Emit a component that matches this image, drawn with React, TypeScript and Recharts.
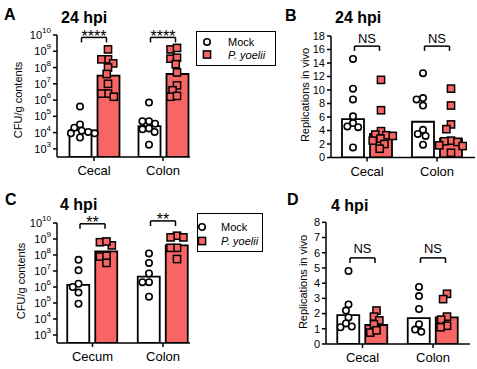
import React from 'react';
import { ComposedChart, Bar, Scatter, XAxis, YAxis, ReferenceLine, ReferenceDot, Legend } from 'recharts';

const FONT = '"Liberation Sans", Arial, Helvetica, sans-serif';
const RED = '#F76565';

const SERIES = ['Mock', 'P. yoelii'];
const CATS_24 = ['Cecal', 'Colon'];
const CATS_4_CFU = ['Cecum', 'Colon'];
const CATS_4_REP = ['Cecal', 'Colon'];
const LOG_TICKS = [1e3, 1e4, 1e5, 1e6, 1e7, 1e8, 1e9, 1e10];
const REP24_TICKS = [0, 2, 4, 6, 8, 10, 12, 14, 16, 18];
const REP4_TICKS = [0, 1, 2, 3, 4, 5, 6, 7, 8];

// Panel A: CFU/g contents, 24 hpi
const A_BAR_MOCK = [1.4e4, 2.5e4];
const A_BAR_PY = [3.2e7, 4.0e7];
const A_MOCK_CECAL = [4.0e5, 3.2e4, 2.0e4, 1.1e4, 1.3e4, 9.0e3, 9.0e3, 5.0e3];
const A_MOCK_COLON = [7.0e5, 5.0e4, 3.5e4, 5.0e4, 1.8e4, 1.1e4, 1.6e4, 1.8e3];
const A_PY_CECAL = [1.3e9, 3.2e8, 3.2e8, 1.8e8, 1.0e8, 4.0e7, 1.0e7, 2.5e6, 1.6e6, 2.5e6];
const A_PY_COLON = [1.3e9, 1.6e9, 3.5e8, 4.0e8, 1.6e8, 5.0e7, 8.0e6, 4.0e6, 1.6e6, 1.8e6];
const A_SIG = ['****', '****'];
const A_SIG_Y = [7.1e9, 7.1e9];
const A_SIG_END = [3.5e9, 3.5e9];

// Panel B: replications in vivo, 24 hpi
const B_BAR_MOCK = [5.7, 5.3];
const B_BAR_PY = [3.5, 2.8];
const B_MOCK_CECAL = [14.6, 10.2, 8.6, 6.1, 5.1, 4.5, 4.6, 1.5];
const B_MOCK_COLON = [12.5, 8.6, 8.8, 7.7, 3.5, 4.1, 3.2, 1.9];
const B_PY_CECAL = [11.5, 7.0, 3.9, 3.3, 3.4, 3.2, 2.8, 2.5, 2.0, 1.3];
const B_PY_COLON = [10.2, 7.7, 4.9, 4.2, 2.5, 2.3, 2.4, 1.8, 1.7, 0.7];
const B_SIG = ['NS', 'NS'];
const B_SIG_Y = [16.5, 16.5];
const B_SIG_END = [15.8, 15.8];

// Panel C: CFU/g contents, 4 hpi
const C_BAR_MOCK = [1.35e6, 4.4e6];
const C_BAR_PY = [1.7e8, 4.0e8];
const C_MOCK_CECUM = [5.0e7, 1.1e7, 1.6e6, 1.0e6, 4.5e5, 9.0e4];
const C_MOCK_COLON = [1.26e8, 3.2e7, 7.0e6, 2.0e6, 2.0e6, 2.5e5];
const C_PY_CECUM = [6.3e8, 4.0e8, 7.0e8, 8.0e7, 9.0e7, 3.2e7];
const C_PY_COLON = [1.6e9, 1.26e9, 1.26e9, 2.8e8, 2.8e8, 5.6e7];
const C_SIG = ['**', '**'];
const C_SIG_Y = [8.9e9, 1.35e10];
const C_SIG_END = [4.3e9, 6.5e9];

// Panel D: replications in vivo, 4 hpi
const D_BAR_MOCK = [1.9, 1.7];
const D_BAR_PY = [1.25, 1.75];
const D_MOCK_CECAL = [4.8, 2.6, 2.2, 1.75, 1.1, 1.35, 1.15];
const D_MOCK_COLON = [3.75, 3.15, 2.3, 1.3, 0.8, 0.95];
const D_PY_CECAL = [2.2, 1.8, 1.55, 1.3, 0.75, 0.9];
const D_PY_COLON = [3.3, 2.95, 1.8, 1.6, 1.2, 1.1];
const D_SIG = ['NS', 'NS'];
const D_SIG_Y = [5.66, 5.66];
const D_SIG_END = [5.33, 5.33];

const BAR = 22;
const GAP = 6;
const HALF = (BAR + GAP) / 2;
const DIAM = 6.6;

function swarm(pys: number[], diam: number): number[] {
  const order = pys.map((_, i) => i).sort((a, b) => pys[a] - pys[b]);
  const placed: { x: number; y: number }[] = [];
  const xs = new Array(pys.length).fill(0);
  for (const i of order) {
    const y = pys[i];
    const iv: [number, number][] = [];
    for (const p of placed) {
      const dy = Math.abs(p.y - y);
      if (dy < diam) {
        const dx = Math.sqrt(diam * diam - dy * dy);
        iv.push([p.x - dx, p.x + dx]);
      }
    }
    const cands = [0, ...iv.flatMap(([a, b]) => [a, b])].sort((a, b) => Math.abs(a) - Math.abs(b) || a - b);
    let chosen = 0;
    for (const c of cands) {
      if (iv.every(([a, b]) => c <= a + 1e-6 || c >= b - 1e-6)) { chosen = c; break; }
    }
    xs[i] = chosen;
    placed.push({ x: chosen, y });
  }
  return xs;
}

const LogTick = (props: any) => {
  const { x, y, payload } = props;
  const exp = Math.round(Math.log10(payload.value));
  return (
    <text x={x} y={y} textAnchor="end" dominantBaseline="central" fontSize={11} fill="#000" fontFamily={FONT}>
      10<tspan dy={-5} fontSize={8}>{exp}</tspan>
    </text>
  );
};

const CircleShape = (p: any) => (
  <circle cx={p.cx} cy={p.cy} r={3.2} fill="#fff" stroke="#000" strokeWidth={1.6} />
);
const SquareShape = (p: any) => (
  <rect x={p.cx - 3.6} y={p.cy - 3.6} width={7.2} height={7.2} fill={RED} stroke="#000" strokeWidth={1.5} />
);

type LegendCfg = { x: number; y: number; w: number; h: number; mx: number; tx: number; y1: number; y2: number };

function LegendBox({ lg }: { lg: LegendCfg }) {
  return (
    <div style={{ position: 'relative', width: lg.w, height: lg.h, boxSizing: 'border-box', border: '1.3px solid #000', background: '#fff', fontFamily: FONT, fontSize: 11, color: '#000' }}>
      <svg width={lg.w} height={lg.h} style={{ position: 'absolute', left: -1.3, top: -1.3 }}>
        <circle cx={lg.mx} cy={lg.y1} r={3.2} fill="#fff" stroke="#000" strokeWidth={1.6} />
        <rect x={lg.mx - 3.6} y={lg.y2 - 3.6} width={7.2} height={7.2} fill={RED} stroke="#000" strokeWidth={1.5} />
        <text x={lg.tx} y={lg.y1} dominantBaseline="central" fontSize={11} fontFamily={FONT}>{SERIES[0]}</text>
        <text x={lg.tx} y={lg.y2} dominantBaseline="central" fontSize={11} fontFamily={FONT} fontStyle="italic">{SERIES[1]}</text>
      </svg>
    </div>
  );
}

type PanelCfg = {
  box: { left: number; top: number; w: number; h: number };
  plot: { l: number; t: number; r: number; b: number };
  padL: number; padR: number;
  log: boolean;
  domain: [number, number];
  ticks: number[];
  cats: string[];
  barMock: number[]; barPy: number[];
  mock: number[][]; py: number[][];
  sig: string[]; sigY: number[]; sigEnd: number[];
  sigFont: number; sigDy: number; sigHalf: number;
  legend?: LegendCfg;
};

function Panel({ cfg }: { cfg: PanelCfg }) {
  const { box, plot } = cfg;
  const band = (plot.r - cfg.padR - (plot.l + cfg.padL)) / cfg.cats.length;
  const h = plot.b - plot.t;
  const toPx = (v: number) => cfg.log
    ? plot.t + (Math.log10(cfg.domain[1]) - Math.log10(v)) / (Math.log10(cfg.domain[1]) - Math.log10(cfg.domain[0])) * h
    : plot.t + (cfg.domain[1] - v) / (cfg.domain[1] - cfg.domain[0]) * h;
  const barData = cfg.cats.map((c, i) => ({ cat: c, mock: cfg.barMock[i], py: cfg.barPy[i] }));
  const makePts = (groups: number[][], side: number) => groups.flatMap((vals, ci) => {
    const js = swarm(vals.map(toPx), DIAM);
    return vals.map((v, k) => ({ x: ci + 0.5 + (side * HALF + js[k]) / band, y: v }));
  });
  const mockPts = makePts(cfg.mock, -1);
  const pyPts = makePts(cfg.py, 1);
  const hw = cfg.sigHalf / band;
  const n = cfg.cats.length;
  const axisStyle = { stroke: '#000', strokeWidth: 1.5 };
  return (
    <div style={{ position: 'absolute', left: box.left, top: box.top }}>
      <ComposedChart
        width={box.w}
        height={box.h}
        data={barData}
        barGap={GAP}
        margin={{ top: plot.t - box.top, right: box.left + box.w - plot.r, bottom: 0, left: 0 }}
      >
        <XAxis
          xAxisId="c"
          dataKey="cat"
          height={box.top + box.h - plot.b}
          padding={{ left: cfg.padL, right: cfg.padR }}
          axisLine={axisStyle}
          tickLine={axisStyle}
          tickSize={4}
          tickMargin={5}
          tick={{ fontSize: 13, fill: '#000', fontFamily: FONT }}
          interval={0}
        />
        <XAxis xAxisId="n" dataKey="x" type="number" domain={[0, n]} allowDataOverflow hide height={0}
          padding={{ left: cfg.padL, right: cfg.padR }} />
        <YAxis
          width={plot.l - box.left}
          scale={cfg.log ? 'log' : 'linear'}
          domain={cfg.domain}
          allowDataOverflow
          ticks={cfg.ticks}
          interval={0}
          axisLine={axisStyle}
          tickLine={axisStyle}
          tickSize={4}
          tickMargin={2}
          tick={cfg.log ? <LogTick /> : { fontSize: 11, fill: '#000', fontFamily: FONT }}
        />
        <Bar xAxisId="c" dataKey="mock" name={SERIES[0]} barSize={BAR} fill="#fff" stroke="#000" strokeWidth={1.8} isAnimationActive={false} />
        <Bar xAxisId="c" dataKey="py" name={SERIES[1]} barSize={BAR} fill={RED} stroke="#000" strokeWidth={1.8} isAnimationActive={false} />
        <Scatter xAxisId="n" data={mockPts} dataKey="y" name={SERIES[0]} shape={CircleShape} isAnimationActive={false} />
        <Scatter xAxisId="n" data={pyPts} dataKey="y" name={SERIES[1]} shape={SquareShape} isAnimationActive={false} />
        {cfg.sig.map((s, i) => {
          const c = i + 0.5;
          return (
            <React.Fragment key={'sig' + i}>
              <ReferenceLine xAxisId="n" ifOverflow="visible" stroke="#000" strokeWidth={1.5}
                segment={[{ x: c - hw, y: cfg.sigY[i] }, { x: c + hw, y: cfg.sigY[i] }]} />
              <ReferenceLine xAxisId="n" ifOverflow="visible" stroke="#000" strokeWidth={1.5}
                segment={[{ x: c - hw, y: cfg.sigY[i] }, { x: c - hw, y: cfg.sigEnd[i] }]} />
              <ReferenceLine xAxisId="n" ifOverflow="visible" stroke="#000" strokeWidth={1.5}
                segment={[{ x: c + hw, y: cfg.sigY[i] }, { x: c + hw, y: cfg.sigEnd[i] }]} />
              <ReferenceDot xAxisId="n" x={c} y={cfg.sigY[i]} r={0} ifOverflow="visible"
                shape={(p: any) => (
                  <text x={p.cx} y={p.cy + cfg.sigDy} textAnchor="middle" fontSize={cfg.sigFont} fontFamily={FONT} fill="#000">{s}</text>
                )} />
            </React.Fragment>
          );
        })}
        {cfg.legend && (
          <Legend
            layout="vertical"
            align="center"
            verticalAlign="middle"
            wrapperStyle={{ left: cfg.legend.x - box.left, top: cfg.legend.y - box.top, width: cfg.legend.w, height: cfg.legend.h }}
            content={() => <LegendBox lg={cfg.legend as LegendCfg} />}
          />
        )}
      </ComposedChart>
    </div>
  );
}

const PANELS: PanelCfg[] = [
  {
    box: { left: 0, top: 0, w: 290, h: 180 },
    plot: { l: 57, t: 35, r: 190, b: 157 },
    padL: 2.5, padR: -7.5, log: true, domain: [Math.pow(10, 2.5), 1e10], ticks: LOG_TICKS,
    cats: CATS_24, barMock: A_BAR_MOCK, barPy: A_BAR_PY,
    mock: [A_MOCK_CECAL, A_MOCK_COLON], py: [A_PY_CECAL, A_PY_COLON],
    sig: A_SIG, sigY: A_SIG_Y, sigEnd: A_SIG_END, sigFont: 16, sigDy: 4.5, sigHalf: 12.5,
    legend: { x: 196, y: 31, w: 80, h: 35, mx: 11, tx: 32, y1: 11, y2: 23.5 },
  },
  {
    box: { left: 280, top: 0, w: 197, h: 180 },
    plot: { l: 331, t: 36, r: 475, b: 157.5 },
    padL: 1, padR: 3, log: false, domain: [0, 18], ticks: REP24_TICKS,
    cats: CATS_24, barMock: B_BAR_MOCK, barPy: B_BAR_PY,
    mock: [B_MOCK_CECAL, B_MOCK_COLON], py: [B_PY_CECAL, B_PY_COLON],
    sig: B_SIG, sigY: B_SIG_Y, sigEnd: B_SIG_END, sigFont: 13, sigDy: -3.5, sigHalf: 12.5,
  },
  {
    box: { left: 0, top: 180, w: 290, h: 189 },
    plot: { l: 57, t: 223, r: 190, b: 343 },
    padL: 0.25, padR: -8.25, log: true, domain: [Math.pow(10, 2.5), 1e10], ticks: LOG_TICKS,
    cats: CATS_4_CFU, barMock: C_BAR_MOCK, barPy: C_BAR_PY,
    mock: [C_MOCK_CECUM, C_MOCK_COLON], py: [C_PY_CECUM, C_PY_COLON],
    sig: C_SIG, sigY: C_SIG_Y, sigEnd: C_SIG_END, sigFont: 16, sigDy: 4.5, sigHalf: 12.5,
    legend: { x: 197, y: 213, w: 66, h: 39, mx: 5, tx: 24, y1: 14, y2: 28 },
  },
  {
    box: { left: 280, top: 180, w: 197, h: 189 },
    plot: { l: 326, t: 222.3, r: 470, b: 344 },
    padL: 1.25, padR: 1.75, log: false, domain: [0, 8], ticks: REP4_TICKS,
    cats: CATS_4_REP, barMock: D_BAR_MOCK, barPy: D_BAR_PY,
    mock: [D_MOCK_CECAL, D_MOCK_COLON], py: [D_PY_CECAL, D_PY_COLON],
    sig: D_SIG, sigY: D_SIG_Y, sigEnd: D_SIG_END, sigFont: 13, sigDy: -4.5, sigHalf: 12.5,
  },
];

const LETTERS = [
  { t: 'A', x: 4, y: 20 }, { t: 'B', x: 285, y: 21 }, { t: 'C', x: 5, y: 205 }, { t: 'D', x: 287, y: 205 },
];
const TITLES = [
  { t: '24 hpi', x: 61, y: 23 }, { t: '24 hpi', x: 335, y: 23 }, { t: '4 hpi', x: 60, y: 210 }, { t: '4 hpi', x: 331, y: 211 },
];
const YLABELS = [
  { t: 'CFU/g contents', x: 18, y: 100 }, { t: 'Replications in vivo', x: 305, y: 95 },
  { t: 'CFU/g contents', x: 21, y: 281 }, { t: 'Replications in vivo', x: 303, y: 282 },
];

export default function App() {
  return (
    <div style={{ position: 'absolute', left: 0, top: 0, width: 477, height: 369, background: '#fff', overflow: 'hidden' }}>
      {PANELS.map((p, i) => <Panel key={i} cfg={p} />)}
      <svg width={477} height={369} style={{ position: 'absolute', left: 0, top: 0, pointerEvents: 'none' }}>
        {LETTERS.map((l, i) => (
          <text key={'l' + i} x={l.x} y={l.y} fontSize={16} fontWeight="bold" fontFamily={FONT} fill="#000">{l.t}</text>
        ))}
        {TITLES.map((l, i) => (
          <text key={'t' + i} x={l.x} y={l.y} fontSize={16} fontWeight="bold" fontFamily={FONT} fill="#000">{l.t}</text>
        ))}
        {YLABELS.map((l, i) => (
          <text key={'y' + i} x={l.x} y={l.y} fontSize={11} fontFamily={FONT} fill="#000" textAnchor="middle"
            dominantBaseline="central" transform={`rotate(-90 ${l.x} ${l.y})`}>{l.t}</text>
        ))}
      </svg>
    </div>
  );
}
